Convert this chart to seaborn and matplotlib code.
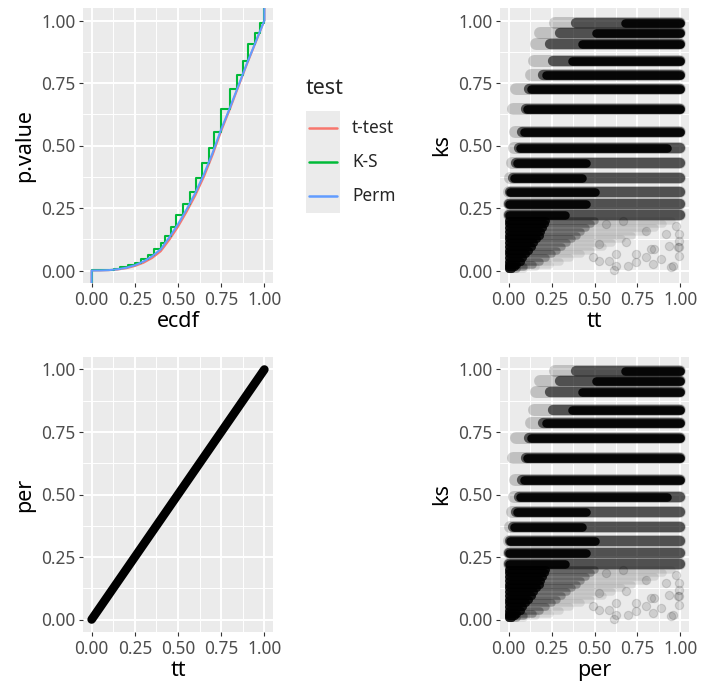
import numpy as np
import pandas as pd
import matplotlib
matplotlib.use("Agg")
import matplotlib.pyplot as plt
import seaborn as sns

# ---------------- data ----------------
# ECDF panel: quantile curves of p-values
ecdf_x  = [0.00, 0.00, 0.05, 0.10, 0.15, 0.20, 0.25, 0.30, 0.35, 0.40, 0.45, 0.50,
           0.55, 0.60, 0.65, 0.70, 0.75, 0.80, 0.85, 0.90, 0.95, 1.00, 1.00]
perm_p  = [-0.20, 0.000, 0.0003, 0.0015, 0.005, 0.011, 0.021, 0.036, 0.057, 0.085, 0.133, 0.185,
           0.245, 0.310, 0.385, 0.470, 0.565, 0.650, 0.740, 0.830, 0.915, 1.000, 1.20]
ttest_p = [-0.20, 0.000, 0.0003, 0.0013, 0.004, 0.009, 0.018, 0.031, 0.050, 0.077, 0.123, 0.175,
           0.235, 0.300, 0.375, 0.462, 0.558, 0.645, 0.736, 0.827, 0.913, 1.000, 1.20]
ks_step_x = [0.000, 0.000, 0.130, 0.165, 0.210, 0.250, 0.288, 0.325, 0.362, 0.400, 0.426, 0.457,
             0.491, 0.530, 0.568, 0.604, 0.641, 0.677, 0.711, 0.747, 0.799, 0.843, 0.874,
             0.905, 0.946, 0.972, 0.995, 1.000]
ks_step_p = [-0.20, 0.003, 0.007, 0.013, 0.021, 0.032, 0.046, 0.064, 0.085, 0.110, 0.140, 0.176,
             0.221, 0.268, 0.315, 0.372, 0.431, 0.489, 0.556, 0.648, 0.727, 0.784, 0.838,
             0.908, 0.952, 0.992, 1.000, 1.20]
test_names = ["t-test", "K-S", "Perm"]
test_colors = ["#F8766D", "#00BA38", "#619CFF"]

# scatter panels: K-S p-value bands (level, extent along tt / per)
ks_levels  = [0.992, 0.952, 0.908, 0.838, 0.784, 0.727, 0.648, 0.556, 0.489, 0.431, 0.372, 0.315, 0.268, 0.221]
faint_from = [0.27, 0.18, 0.16, 0.15, 0.13, 0.045, 0.025, 0.035, 0.030, 0.020, 0.010, 0.000, 0.000, 0.000]
mid_from   = [0.39, 0.30, 0.24, 0.26, 0.20, 0.120, 0.100, 0.080, 0.060, 0.045, 0.025, 0.006, 0.000, 0.000]
dark_from  = [0.68, 0.51, 0.43, 0.37, 0.22, 0.130, 0.110, 0.090, 0.065, 0.050, 0.030, 0.010, 0.000, 0.000]
dark_to    = [1.00, 1.00, 1.00, 1.00, 1.00, 1.000, 1.000, 1.000, 0.920, 0.450, 0.430, 0.500, 0.450, 0.330]

# low K-S p-values (dense corner)
low_ks       = [0.200, 0.185, 0.170, 0.155, 0.140, 0.125, 0.110, 0.095, 0.080, 0.065, 0.050, 0.036, 0.024, 0.013, 0.005]
low_dark_to  = [0.22, 0.21, 0.20, 0.19, 0.18, 0.165, 0.15, 0.135, 0.12, 0.10, 0.085, 0.07, 0.05, 0.035, 0.02]
low_mid_to   = [0.50, 0.48, 0.45, 0.42, 0.40, 0.37, 0.34, 0.31, 0.28, 0.25, 0.22, 0.18, 0.14, 0.09, 0.05]
low_faint_to = [0.95, 0.90, 0.85, 0.80, 0.72, 0.66, 0.60, 0.55, 0.48, 0.42, 0.36, 0.30, 0.24, 0.16, 0.09]

# isolated points in the sparse lower-right area
sparse_x = [0.616, 0.694, 0.742, 0.946, 0.888, 0.994, 0.994, 0.936, 0.529, 0.490, 0.800, 0.830,
            0.626, 0.683, 0.568, 0.994, 0.626, 0.839, 0.955, 0.845, 0.742, 0.587, 0.529, 0.994,
            0.984, 0.917, 0.800, 0.665, 0.975]
sparse_y = [0.003, 0.020, 0.033, 0.013, 0.047, 0.060, 0.094, 0.100, 0.040, 0.053, 0.053, 0.087,
            0.067, 0.114, 0.187, 0.147, 0.020, 0.027, 0.020, 0.087, 0.067, 0.040, 0.107, 0.120,
            0.094, 0.147, 0.160, 0.200, 0.177]

# per vs tt
tt_line  = [0.00, 0.05, 0.10, 0.15, 0.20, 0.25, 0.30, 0.35, 0.40, 0.45, 0.50,
            0.55, 0.60, 0.65, 0.70, 0.75, 0.80, 0.85, 0.90, 0.95, 1.00]
per_line = [0.00, 0.05, 0.10, 0.15, 0.20, 0.25, 0.30, 0.35, 0.40, 0.45, 0.50,
            0.55, 0.60, 0.65, 0.70, 0.75, 0.80, 0.85, 0.90, 0.95, 1.00]

tick_vals = [0.0, 0.25, 0.5, 0.75, 1.0]
tick_labels = ["0.00", "0.25", "0.50", "0.75", "1.00"]
minor_vals = [0.125, 0.375, 0.625, 0.875]

# ---------------- style ----------------
sns.set_theme(style="darkgrid")
plt.rcParams["font.family"] = ["Noto Sans", "DejaVu Sans"]
plt.rcParams["axes.facecolor"] = "#EBEBEB"
plt.rcParams["figure.facecolor"] = "white"

TXT = 12.4
TTL = 15.5
W, H = 701, 689
fig = plt.figure(figsize=(W / 100, H / 100), dpi=100)

def px_axes(x0, y0, x1, y1):
    return fig.add_axes([x0 / W, 1 - y1 / H, (x1 - x0) / W, (y1 - y0) / H])

ax_tl = px_axes(83, 8, 273, 283)
ax_tr = px_axes(500, 8, 689, 283)
ax_bl = px_axes(83, 357, 273, 632)
ax_br = px_axes(500, 357, 689, 632)

def style_axes(ax, xlabel, ylabel):
    ax.set_xlim(-0.05, 1.05)
    ax.set_ylim(-0.05, 1.05)
    ax.set_xticks(tick_vals)
    ax.set_xticklabels(tick_labels)
    ax.set_yticks(tick_vals)
    ax.set_yticklabels(tick_labels)
    ax.set_xticks(minor_vals, minor=True)
    ax.set_yticks(minor_vals, minor=True)
    ax.grid(which="major", color="white", linewidth=1.4)
    ax.grid(which="minor", color="white", linewidth=0.7)
    ax.set_axisbelow(True)
    ax.tick_params(which="major", length=3.1, width=0.8, color="#333333",
                   labelsize=TXT, labelcolor="#4D4D4D", pad=2.4,
                   bottom=True, left=True)
    ax.tick_params(which="minor", length=0)
    for s in ax.spines.values():
        s.set_visible(False)
    ax.set_xlabel(xlabel, fontsize=TTL, color="black", labelpad=2)
    ax.set_ylabel(ylabel, fontsize=TTL, color="black", labelpad=4)

# ---------------- ECDF panel ----------------
g_x, g_p = [], []
for i in range(len(ks_step_x) - 1):
    g_x += [ks_step_x[i], ks_step_x[i + 1]]
    g_p += [ks_step_p[i], ks_step_p[i]]
g_x.append(ks_step_x[-1]); g_p.append(ks_step_p[-1])

ecdf_df = pd.concat([
    pd.DataFrame({"ecdf": ecdf_x, "p.value": ttest_p, "test": "t-test"}),
    pd.DataFrame({"ecdf": g_x, "p.value": g_p, "test": "K-S"}),
    pd.DataFrame({"ecdf": ecdf_x, "p.value": perm_p, "test": "Perm"}),
], ignore_index=True)

sns.lineplot(data=ecdf_df, x="ecdf", y="p.value", hue="test", hue_order=test_names,
             palette=test_colors, estimator=None, sort=False, linewidth=1.5,
             legend=False, ax=ax_tl)
style_axes(ax_tl, "ecdf", "p.value")

# ---------------- scatter band panels ----------------
rows = []
sid = 0
for i, lv in enumerate(ks_levels):
    for layer, a, b in (("faint", faint_from[i], 1.0), ("mid", mid_from[i], 1.0),
                        ("dark", dark_from[i], dark_to[i])):
        rows += [(sid, a, lv, layer), (sid, b, lv, layer)]
        sid += 1
for i, lv in enumerate(low_ks):
    for layer, b in (("lfaint", low_faint_to[i]), ("lmid", low_mid_to[i]), ("ldark", low_dark_to[i])):
        rows += [(sid, 0.0, lv, layer), (sid, b, lv, layer)]
        sid += 1
seg_df = pd.DataFrame(rows, columns=["seg", "x", "ks", "layer"])
layer_style = {"lfaint": (0.09, 5.4), "lmid": (0.28, 5.4), "ldark": (0.85, 5.8),
               "faint": (0.18, 8.6), "mid": (0.58, 7.4), "dark": (0.92, 6.2)}
sparse_df = pd.DataFrame({"x": sparse_x, "ks": sparse_y})

def draw_scatter_panel(ax, xlabel):
    for layer in ["lfaint", "lmid", "ldark", "faint", "mid", "dark"]:
        sub = seg_df[seg_df["layer"] == layer]
        a, lw = layer_style[layer]
        sns.lineplot(data=sub, x="x", y="ks", units="seg", estimator=None, sort=False,
                     color="black", alpha=a, linewidth=lw,
                     solid_capstyle="round", ax=ax)
    sns.scatterplot(data=sparse_df, x="x", y="ks", color="black", alpha=0.12, s=36,
                    edgecolor="black", linewidth=0.8, ax=ax)
    style_axes(ax, xlabel, "ks")

draw_scatter_panel(ax_tr, "tt")
draw_scatter_panel(ax_br, "per")

# ---------------- per vs tt ----------------
line_df = pd.DataFrame({"tt": tt_line, "per": per_line})
sns.lineplot(data=line_df, x="tt", y="per", color="black", linewidth=6.2,
             solid_capstyle="round", estimator=None, ax=ax_bl)
style_axes(ax_bl, "tt", "per")

# ---------------- legend (ggplot-style keys) ----------------
fig.text(306 / W, 1 - 89 / H, "test", fontsize=TTL, ha="left", va="center")
key_ax = px_axes(306, 111, 340, 213)
key_ax.set_xlim(0, 1)
key_ax.set_ylim(3, 0)
key_ax.axis("off")
key_ax.add_patch(plt.Rectangle((0, 0), 1, 3, facecolor="#EBEBEB", edgecolor="none"))
for i, (name, col) in enumerate(zip(test_names, test_colors)):
    key_ax.plot([0.09, 0.91], [i + 0.5, i + 0.5], color=col, linewidth=1.8)
    fig.text(352 / W, 1 - (128 + 34 * i) / H, name, fontsize=TXT, ha="left", va="center")

fig.savefig("out.png", dpi=100)
